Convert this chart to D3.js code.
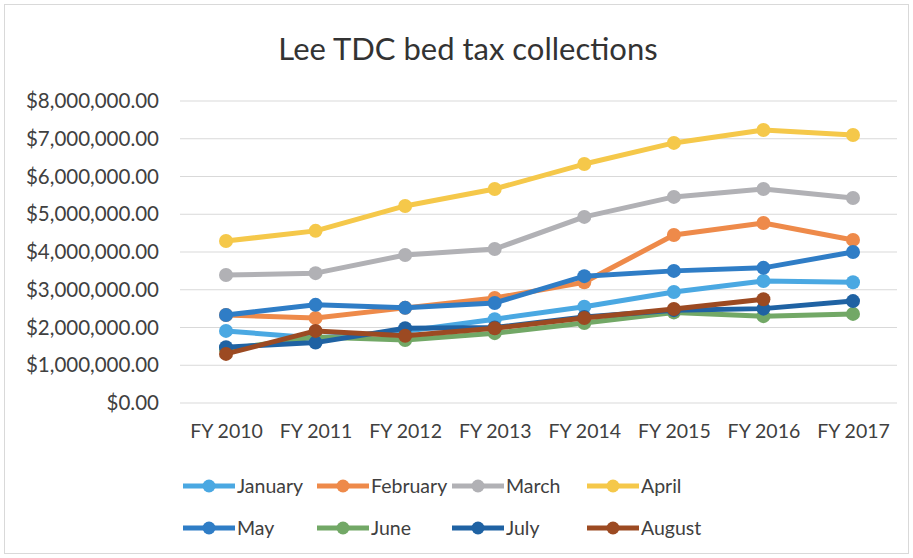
<!DOCTYPE html>
<html>
<head>
<meta charset="utf-8">
<script src="https://cdn.jsdelivr.net/npm/d3@7"></script>
<style>
  html, body { margin: 0; padding: 0; background: #fff; }
  svg { display: block; }
  text { font-family: Lato, "Open Sans", sans-serif; fill: #404040; }
</style>
</head>
<body>
<svg id="chart" width="913" height="558"></svg>
<script>
const categories = ["FY 2010","FY 2011","FY 2012","FY 2013","FY 2014","FY 2015","FY 2016","FY 2017"];
const seriesNames = ["January","February","March","April","May","June","July","August"];
const january  = [1910000, 1720000, 1900000, 2220000, 2550000, 2940000, 3230000, 3200000];
const february = [2330000, 2250000, 2520000, 2780000, 3200000, 4450000, 4770000, 4320000];
const march    = [3390000, 3440000, 3920000, 4080000, 4930000, 5460000, 5670000, 5430000];
const april    = [4290000, 4560000, 5220000, 5670000, 6330000, 6890000, 7230000, 7100000];
const may      = [2330000, 2600000, 2520000, 2650000, 3360000, 3500000, 3580000, 4000000];
const june     = [1420000, 1750000, 1670000, 1850000, 2120000, 2400000, 2300000, 2360000];
const july     = [1480000, 1600000, 1980000, 2000000, 2280000, 2460000, 2500000, 2700000];
const august   = [1300000, 1910000, 1780000, 1980000, 2250000, 2490000, 2750000, null];
const yTicks   = [0,1000000,2000000,3000000,4000000,5000000,6000000,7000000,8000000];
const colors   = ["#4aa8e2","#ee8a4a","#b1b1b5","#f5c84a","#2f7dc6","#72a866","#1f62a3","#9c4a22"];

const values = [january, february, march, april, may, june, july, august];
const series = seriesNames.map((n, i) => ({name: n, color: colors[i], values: values[i]}));

const svg = d3.select("#chart");
const W = 913, H = 558;

// chart border
svg.append("rect").attr("x", 4.5).attr("y", 4.5).attr("width", W - 9).attr("height", H - 9)
  .attr("fill", "#fff").attr("stroke", "#d9d9d9");

svg.append("text").attr("x", 468).attr("y", 60).attr("text-anchor", "middle")
  .style("font-size", "31px").style("fill", "#333").text("Lee TDC bed tax collections");

const x = d3.scalePoint().domain(categories).range([226, 853]);
const y = d3.scaleLinear().domain([0, 8000000]).range([403, 101]);

const fmt = d => "$" + d3.format(",.2f")(d);

// gridlines
svg.append("g").selectAll("line").data(yTicks).join("line")
  .attr("x1", 180).attr("x2", 897)
  .attr("y1", d => y(d)).attr("y2", d => y(d))
  .attr("stroke", "#d9d9d9").attr("stroke-width", 1);

// y axis
const yAxis = svg.append("g").attr("transform", "translate(159,0)")
  .call(d3.axisLeft(y).tickValues(yTicks).tickFormat(fmt).tickSize(0).tickPadding(0));
yAxis.select(".domain").remove();
yAxis.selectAll("text").style("font-size", "20.5px").style("fill", "#404040")
  .style("font-family", "Lato, 'Open Sans', sans-serif");

// x axis
const xAxis = svg.append("g").attr("transform", "translate(0,420)")
  .call(d3.axisBottom(x).tickSize(0).tickPadding(4));
xAxis.select(".domain").remove();
xAxis.selectAll("text").style("font-size", "19.5px").style("fill", "#404040")
  .style("font-family", "Lato, 'Open Sans', sans-serif");

const line = d3.line()
  .defined(d => d != null)
  .x((d, i) => x(categories[i]))
  .y(d => y(d));

const g = svg.append("g");
series.forEach(s => {
  g.append("path").datum(s.values).attr("d", line)
    .attr("fill", "none").attr("stroke", s.color).attr("stroke-width", 5)
    .attr("stroke-linejoin", "round").attr("stroke-linecap", "round");
  g.selectAll(null).data(s.values.map((v, i) => ({v, i})).filter(d => d.v != null)).join("circle")
    .attr("cx", d => x(categories[d.i])).attr("cy", d => y(d.v)).attr("r", 7)
    .attr("fill", s.color);
});

// legend
const colX = [183, 317, 452, 587];
const rowY = [486, 528];
const leg = svg.append("g");
series.forEach((s, i) => {
  const cx = colX[i % 4], cy = rowY[Math.floor(i / 4)];
  leg.append("line").attr("x1", cx).attr("x2", cx + 52).attr("y1", cy).attr("y2", cy)
    .attr("stroke", s.color).attr("stroke-width", 5);
  leg.append("circle").attr("cx", cx + 26).attr("cy", cy).attr("r", 6.5).attr("fill", s.color);
  leg.append("text").attr("x", cx + 54).attr("y", cy).attr("dy", "0.35em")
    .style("font-size", "19.5px").text(s.name);
});
</script>
</body>
</html>
